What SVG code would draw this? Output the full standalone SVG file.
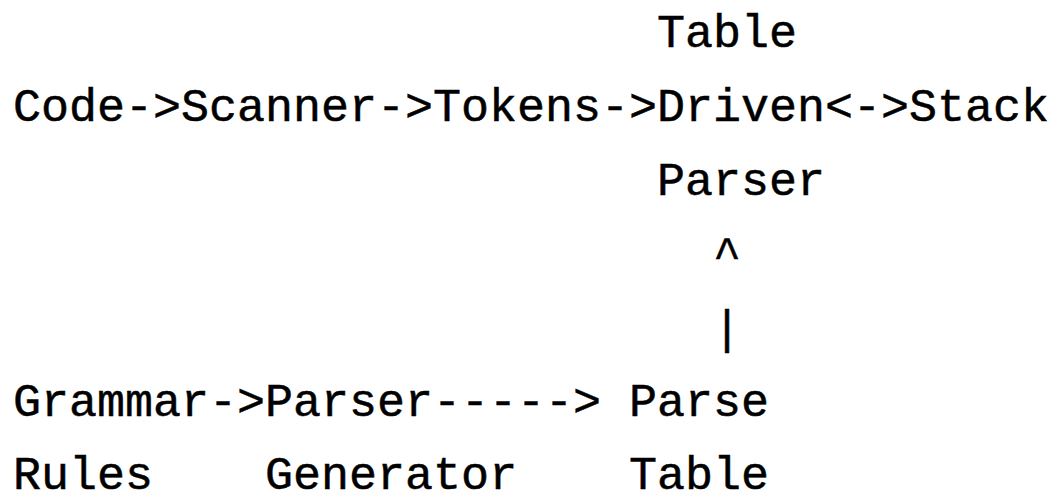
<svg xmlns="http://www.w3.org/2000/svg" width="1059" height="501" viewBox="0 0 1059 501">
<style>
text{font-family:"Liberation Mono","DejaVu Sans Mono",monospace;font-size:46.7px;fill:#000;stroke:#000;stroke-width:0.5px;white-space:pre}
</style>
<rect width="1059" height="501" fill="#fff"/>
<g id="code"><text x="13" y="121">Code</text></g>
<g id="scanner"><text x="181" y="121">Scanner</text></g>
<g id="tokens"><text x="433" y="121">Tokens</text></g>
<g id="parser"><text x="657" y="47">Table</text><text x="657" y="121">Driven</text><text x="657" y="195">Parser</text></g>
<g id="stack"><text x="909" y="121">Stack</text></g>
<g id="grammar"><text x="13" y="416">Grammar</text><text x="13" y="489">Rules</text></g>
<g id="generator"><text x="265" y="416">Parser</text><text x="265" y="489">Generator</text></g>
<g id="parse-table"><text x="629" y="416">Parse</text><text x="629" y="489">Table</text></g>
<g id="connectors">
<text x="125" y="121">-&gt;</text>
<text x="377" y="121">-&gt;</text>
<text x="601" y="121">-&gt;</text>
<text x="825" y="121">&lt;-&gt;</text>
<text x="713" y="269">^</text>
<text x="713" y="343">|</text>
<text x="209" y="416">-&gt;</text>
<text x="433" y="416">-----&gt;</text>
</g>
</svg>
